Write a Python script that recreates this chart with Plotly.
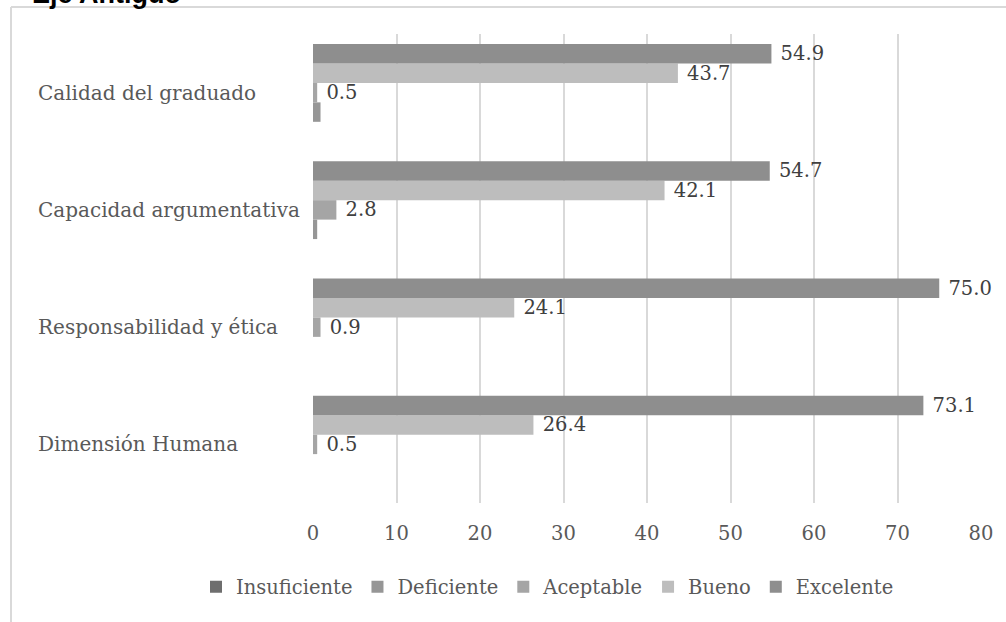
import plotly.graph_objects as go

categories = ["Dimensión Humana", "Responsabilidad y ética", "Capacidad argumentativa", "Calidad del graduado"]
series_names = ["Insuficiente", "Deficiente", "Aceptable", "Bueno", "Excelente"]
insuficiente = [0, 0, 0, 0]
deficiente = [0, 0, 0.5, 0.9]
aceptable = [0.5, 0.9, 2.8, 0.5]
bueno = [26.4, 24.1, 42.1, 43.7]
excelente = [73.1, 75.0, 54.7, 54.9]
show_labels = [False, False, True, True, True]
colors = ["#6e6e6e", "#969696", "#a5a5a5", "#bdbdbd", "#8e8e8e"]
x_ticks = [0, 10, 20, 30, 40, 50, 60, 70, 80]
title_text = "Eje Antiguo"

W, H = 1006, 622
ML, MR, MT, MB = 313, 25, 34, 119
PW, PH = W - ML - MR, H - MT - MB

FONT = "DejaVu Serif"
FS = 19.5

fig = go.Figure()
for name, vals, col, lab in zip(series_names, [insuficiente, deficiente, aceptable, bueno, excelente], colors, show_labels):
    fig.add_trace(go.Bar(
        y=categories, x=vals, name=name, orientation="h",
        marker=dict(color=col, line=dict(width=0)),
        text=["\u00a0" + f"{v:.1f}" for v in vals] if lab else None,
        textposition="outside" if lab else "none",
        constraintext="none",
        cliponaxis=False,
        textfont=dict(family=FONT, size=FS, color="#404040"),
    ))

def px_x(p):
    return (p - ML) / PW

def px_y(p):
    return (H - MB - p) / PH

annotations = [
    dict(text=f"<b>{title_text}</b>", xref="paper", yref="paper", x=px_x(30), y=px_y(11),
         xanchor="left", yanchor="bottom", showarrow=False,
         font=dict(family="Liberation Sans", size=27, color="#000000")),
]
for c in categories:
    annotations.append(dict(text=c, xref="paper", yref="y", x=px_x(36), y=c, xanchor="left",
                            yanchor="middle", showarrow=False,
                            font=dict(family=FONT, size=20, color="#595959")))

fig.update_layout(
    width=W, height=H,
    margin=dict(l=ML, r=MR, t=MT, b=MB),
    barmode="group", bargap=0.17, bargroupgap=0,
    plot_bgcolor="white", paper_bgcolor="white",
    font=dict(family=FONT, size=FS, color="#595959"),
    xaxis=dict(range=[0, 80], tickvals=x_ticks, showgrid=True, gridcolor="#d9d9d9", gridwidth=1.5,
               zeroline=False, showline=False, ticks="", ticklabelstandoff=16,
               tickfont=dict(size=FS, color="#595959")),
    yaxis=dict(categoryorder="array", categoryarray=categories, showgrid=False, zeroline=False,
               showline=False, ticks="", showticklabels=False),
    legend=dict(orientation="h", xref="paper", yref="paper", x=px_x(196), xanchor="left",
                y=px_y(587), yanchor="middle",
                font=dict(size=FS, color="#595959"), traceorder="normal", itemwidth=30,
                bgcolor="rgba(0,0,0,0)"),
    showlegend=True,
    shapes=[
        dict(type="line", xref="paper", yref="paper", x0=px_x(11), x1=px_x(1010), y0=px_y(7), y1=px_y(7),
             line=dict(color="#d9d9d9", width=2)),
        dict(type="line", xref="paper", yref="paper", x0=px_x(11), x1=px_x(11), y0=px_y(7), y1=px_y(630),
             line=dict(color="#d9d9d9", width=2)),
    ],
    annotations=annotations,
)

fig.write_html("out.html", config={"displayModeBar": False},
               post_script="document.body.style.margin='0px';document.body.style.overflow='hidden';")
